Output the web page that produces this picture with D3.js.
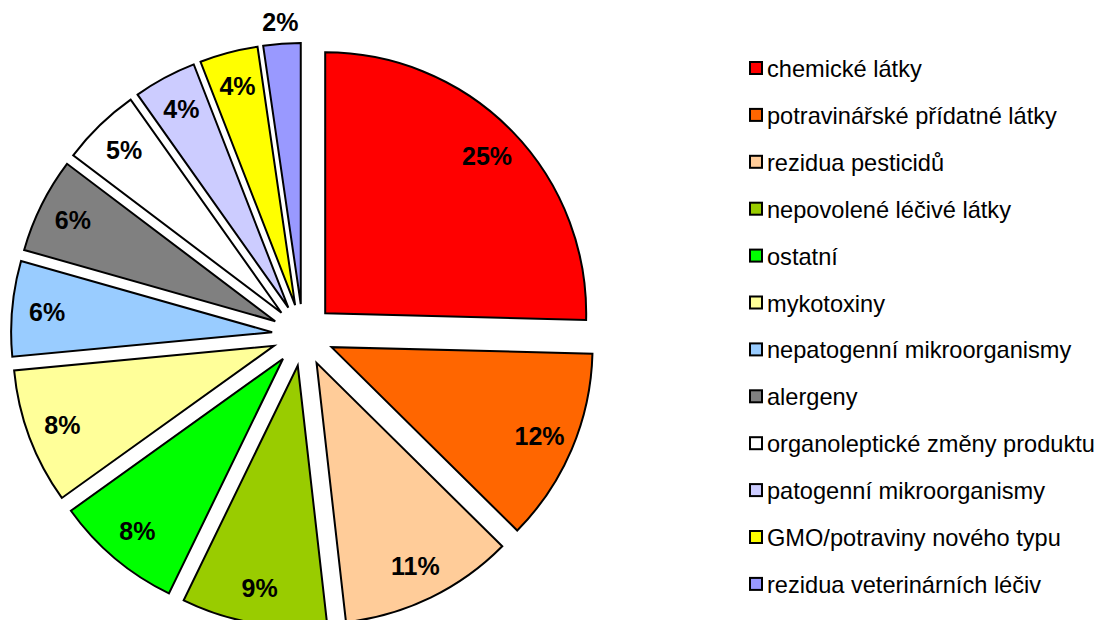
<!DOCTYPE html>
<html>
<head>
<meta charset="utf-8">
<script src="https://cdn.jsdelivr.net/npm/d3@7"></script>
<style>
  body { margin: 0; background: #fff; }
  svg { display: block; font-family: 'Liberation Sans', Arial, sans-serif; }
</style>
</head>
<body>
<svg class="chart" width="1103" height="620"></svg>
<script>
const categories = [
  'chemické látky',
  'potravinářské přídatné látky',
  'rezidua pesticidů',
  'nepovolené léčivé látky',
  'ostatní',
  'mykotoxiny',
  'nepatogenní mikroorganismy',
  'alergeny',
  'organoleptické změny produktu',
  'patogenní mikroorganismy',
  'GMO/potraviny nového typu',
  'rezidua veterinárních léčiv',
];
// shares in % (labels show them rounded)
const shares = [25.4, 12.0, 10.8, 9.0, 7.9, 8.4, 5.9, 5.9, 4.9, 3.9, 3.6, 2.3];
const colors = ['#ff0000', '#ff6600', '#ffcc99', '#99cc00', '#00ff00', '#ffff99',
  '#99ccff', '#808080', '#ffffff', '#ccccff', '#ffff00', '#9999ff'];

const svg = d3.select('.chart');
const center = [303, 335];
const radius = 261;
const explode = 31;

const data = categories.map((name, i) => ({ name, value: shares[i], color: colors[i] }));

const pie = d3.pie().sort(null).value(d => d.value);
const arc = d3.arc().innerRadius(0).outerRadius(radius);
const arcs = pie(data);

// offset of each exploded slice along its bisector
function shift(d, dist) {
  const a = (d.startAngle + d.endAngle) / 2;
  return [Math.sin(a) * dist, -Math.cos(a) * dist];
}

const g = svg.append('g').attr('transform', `translate(${center[0]}, ${center[1]})`);

g.selectAll('path')
  .data(arcs)
  .enter()
  .append('path')
  .attr('transform', d => `translate(${shift(d, explode)})`)
  .attr('d', arc)
  .attr('fill', d => d.data.color)
  .attr('stroke', '#000')
  .attr('stroke-width', 2)
  .attr('stroke-linejoin', 'miter');

g.selectAll('text')
  .data(arcs)
  .enter()
  .append('text')
  .attr('transform', (d) => {
    // slices too thin for a label get it outside
    const dist = d.data.value < 3 ? explode + radius + 22 : explode + 226;
    return `translate(${shift(d, dist)})`;
  })
  .attr('text-anchor', 'middle')
  .attr('dominant-baseline', 'central')
  .attr('font-size', 25)
  .attr('font-weight', 'bold')
  .text(d => `${Math.round(d.data.value)}%`);

const legend = svg.append('g').attr('transform', 'translate(749, 68)');
const rows = legend.selectAll('g')
  .data(data)
  .enter()
  .append('g')
  .attr('transform', (d, i) => `translate(0, ${i * 46.9})`);

rows.append('rect')
  .attr('x', 1)
  .attr('y', -6)
  .attr('width', 12)
  .attr('height', 12)
  .attr('fill', d => d.color)
  .attr('stroke', '#000')
  .attr('stroke-width', 2);

rows.append('text')
  .attr('x', 18)
  .attr('y', 1)
  .attr('dominant-baseline', 'central')
  .attr('font-size', 23.6)
  .text(d => d.name);
</script>
</body>
</html>
